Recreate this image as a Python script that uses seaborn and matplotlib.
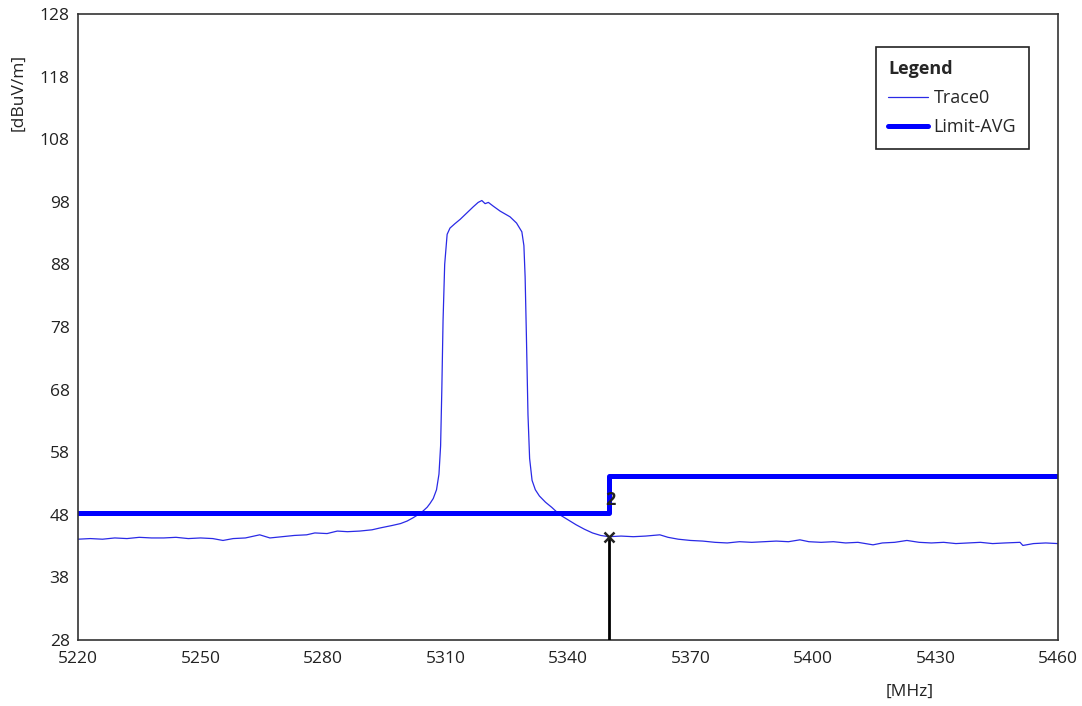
import matplotlib
matplotlib.use("Agg")
import matplotlib.pyplot as plt
import seaborn as sns
import pandas as pd

# Trace0 (frequency in MHz, level in dBuV/m)
trace_freq = [
    5220, 5223, 5226, 5229, 5232, 5235, 5238, 5241, 5244, 5247,
    5250, 5253, 5255.5, 5258, 5261, 5264.5, 5267, 5270, 5273, 5276,
    5278, 5281, 5283.5, 5286, 5289, 5292, 5294, 5297, 5299, 5300.6,
    5302, 5303, 5304.5, 5305.5, 5306.2, 5307, 5307.8, 5308.4, 5308.8, 5309.1,
    5309.4, 5309.8, 5310.4, 5311.1, 5312.3, 5313.6, 5315.2, 5316.8, 5318.0, 5318.9,
    5319.7, 5320.5, 5321.7, 5323.4, 5325.8, 5327.4, 5328.7, 5329.2, 5329.5, 5329.8,
    5330.2, 5330.6, 5331.2, 5332, 5333, 5334.5, 5336, 5338, 5340, 5342,
    5344, 5346, 5348, 5350, 5353, 5356, 5359, 5362.5, 5364.5, 5367,
    5370, 5373, 5376, 5379, 5382, 5385, 5388, 5391, 5394, 5396.8,
    5399, 5402, 5405, 5408, 5411, 5414.7, 5417, 5420, 5423, 5426,
    5429, 5432, 5435, 5438, 5441, 5444, 5447, 5450.7, 5451.4, 5454,
    5457, 5460,
]
trace_level = [
    44.1, 44.2, 44.1, 44.3, 44.2, 44.4, 44.3, 44.3, 44.4, 44.2,
    44.3, 44.2, 43.9, 44.2, 44.3, 44.8, 44.3, 44.5, 44.7, 44.8,
    45.1, 45.0, 45.4, 45.3, 45.4, 45.6, 45.9, 46.3, 46.6, 47.0,
    47.5, 47.9, 48.6, 49.2, 49.8, 50.6, 52.0, 54.5, 59.0, 68.0,
    79.0, 88.0, 92.8, 93.8, 94.5, 95.2, 96.2, 97.2, 97.9, 98.2,
    97.7, 97.9, 97.3, 96.5, 95.6, 94.6, 93.2, 91.0, 86.0, 77.0,
    64.0, 57.0, 53.5, 52.0, 51.0, 50.0, 49.2, 48.0, 47.2, 46.4,
    45.7, 45.1, 44.7, 44.5, 44.6, 44.5, 44.6, 44.8, 44.4, 44.1,
    43.9, 43.8, 43.6, 43.5, 43.7, 43.6, 43.7, 43.8, 43.7, 44.0,
    43.7, 43.6, 43.7, 43.5, 43.6, 43.2, 43.5, 43.6, 43.9, 43.6,
    43.5, 43.6, 43.4, 43.5, 43.6, 43.4, 43.5, 43.6, 43.1, 43.4,
    43.5, 43.4,
]

# Limit-AVG
limit_freq = [5220, 5350, 5350, 5460]
limit_level = [48.3, 48.3, 54.2, 54.2]

# Marker 2
marker_freq = 5350
marker_level = 44.5
marker_label = "2"

x_ticks = [5220, 5250, 5280, 5310, 5340, 5370, 5400, 5430, 5460]
y_ticks = [28, 38, 48, 58, 68, 78, 88, 98, 108, 118, 128]

trace_df = pd.DataFrame({"freq": trace_freq, "level": trace_level})
limit_df = pd.DataFrame({"freq": limit_freq, "level": limit_level})

sns.set_style("white")
plt.rcParams["font.family"] = ["Open Sans", "DejaVu Sans"]

fig = plt.figure(figsize=(10.82, 7.06), dpi=100)
ax = fig.add_axes([0.0721, 0.0935, 0.9057, 0.8867])

sns.lineplot(data=trace_df, x="freq", y="level", ax=ax, sort=False,
             estimator=None, color="#2a2ae6", linewidth=0.9, label="Trace0")
sns.lineplot(data=limit_df, x="freq", y="level", ax=ax, sort=False,
             estimator=None, color="#0000ff", linewidth=3.6, label="Limit-AVG")

# marker: vertical line from bottom to trace, x symbol, label
ax.plot([marker_freq, marker_freq], [y_ticks[0], marker_level],
        color="black", linewidth=2.0, zorder=4)
ax.plot([marker_freq], [marker_level], marker="x", color="#222222",
        markersize=7, markeredgewidth=1.8, zorder=5)
ax.text(marker_freq + 0.3, marker_level + 5.8, marker_label, fontsize=13,
        fontweight="bold", ha="center", va="center", color="#222222", zorder=5)

ax.set_xlim(x_ticks[0], x_ticks[-1])
ax.set_ylim(y_ticks[0], y_ticks[-1])
ax.set_xticks(x_ticks)
ax.set_yticks(y_ticks)
ax.tick_params(axis="both", length=0, labelsize=12.5, colors="#222222")
ax.tick_params(axis="x", pad=8)
ax.tick_params(axis="y", pad=6)
ax.set_xlabel("")
ax.set_ylabel("")
for sp in ax.spines.values():
    sp.set_color("#333333")
    sp.set_linewidth(1.2)

fig.text(18 / 1082, 1 - 92 / 706, "[dBuV/m]", rotation=90, fontsize=12.5,
         ha="center", va="center", color="#222222")
fig.text(910 / 1082, 1 - 692 / 706, "[MHz]", fontsize=12.5,
         ha="center", va="center", color="#222222")

leg = ax.legend(loc="upper left", bbox_to_anchor=(0.814, 0.947),
                borderaxespad=0, title="Legend", fontsize=13,
                title_fontproperties={"weight": "bold", "size": 13},
                frameon=True, fancybox=False,
                handlelength=2.2, handletextpad=0.3, borderpad=0.7,
                labelspacing=0.62, alignment="left")
leg.get_frame().set_edgecolor("#222222")
leg.get_frame().set_linewidth(1.2)
leg.get_frame().set_alpha(1)

fig.savefig("out.png", dpi=100, facecolor="white")
